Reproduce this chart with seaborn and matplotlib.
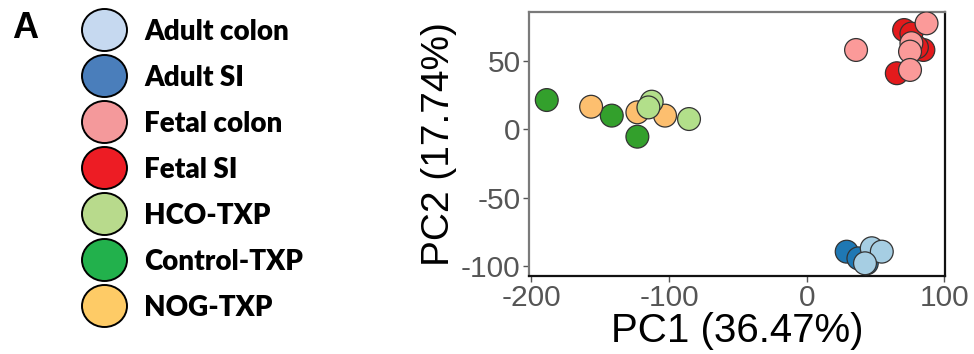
import matplotlib
matplotlib.use("Agg")
import matplotlib.pyplot as plt
from matplotlib.patches import Ellipse
import seaborn as sns
import pandas as pd

# ---- data ----
groups = ["Adult colon", "Adult SI", "Fetal colon", "Fetal SI",
          "HCO-TXP", "Control-TXP", "NOG-TXP"]
draw_order = ["Adult SI", "Adult colon", "Fetal SI", "Fetal colon",
              "Control-TXP", "NOG-TXP", "HCO-TXP"]

pc1_adult_si = [29, 37.5, 43.6]
pc2_adult_si = [-89.5, -94.4, -98]
pc1_adult_colon = [47.2, 54.5, 42.3]
pc2_adult_colon = [-87, -89.5, -98]
pc1_fetal_si = [70.7, 76, 84.7, 65.4, 80]
pc2_fetal_si = [72.6, 70, 58, 41, 60]
pc1_fetal_colon = [35.8, 87, 76, 75, 75]
pc2_fetal_colon = [58, 77.5, 63, 56.8, 43.4]
pc1_control = [-188.8, -141.6, -123]
pc2_control = [21.4, 10, -5.4]
pc1_nog = [-156.6, -123, -102.9]
pc2_nog = [16.5, 12.4, 10]
pc1_hco = [-112.6, -115, -85.5]
pc2_hco = [20.2, 16, 7.5]

x_ticks = [-200, -100, 0, 100]
y_ticks = [50, 0, -50, -100]
x_label = "PC1 (36.47%)"
y_label = "PC2 (17.74%)"

plot_colors = {"Adult colon": "#a6cee3", "Adult SI": "#1f78b4",
               "Fetal colon": "#fb9a99", "Fetal SI": "#e31a1c",
               "HCO-TXP": "#b2df8a", "Control-TXP": "#33a02c",
               "NOG-TXP": "#fdbf6f"}
legend_colors = {"Adult colon": "#c6d9f0", "Adult SI": "#4a7ebb",
                 "Fetal colon": "#f4999b", "Fetal SI": "#ed1c24",
                 "HCO-TXP": "#b8da8c", "Control-TXP": "#22b14c",
                 "NOG-TXP": "#fecb66"}

series = {
    "Adult SI": (pc1_adult_si, pc2_adult_si),
    "Adult colon": (pc1_adult_colon, pc2_adult_colon),
    "Fetal SI": (pc1_fetal_si, pc2_fetal_si),
    "Fetal colon": (pc1_fetal_colon, pc2_fetal_colon),
    "Control-TXP": (pc1_control, pc2_control),
    "NOG-TXP": (pc1_nog, pc2_nog),
    "HCO-TXP": (pc1_hco, pc2_hco),
}
rows = []
for g in draw_order:
    xs, ys = series[g]
    for a, b in zip(xs, ys):
        rows.append({"PC1": a, "PC2": b, "group": g})
df = pd.DataFrame(rows)

# ---- figure ----
sns.set_style("white")
plt.rcParams["font.family"] = ["Liberation Sans", "DejaVu Sans"]
plt.rcParams["text.color"] = "black"

fig = plt.figure(figsize=(9.74, 3.54), dpi=100)
ax = fig.add_axes([529 / 974, 1 - 276 / 354, (945 - 529) / 974, (276 - 11.7) / 354])

sns.scatterplot(data=df, x="PC1", y="PC2", hue="group", palette=plot_colors,
                s=270, edgecolor="#333333", linewidth=0.9, legend=False,
                ax=ax, zorder=3)

ax.set_xlim(-201.7, 100.4)
ax.set_ylim(-107.3, 86)
ax.set_xticks(x_ticks)
ax.set_yticks(y_ticks)
ax.set_xticklabels([str(t) for t in x_ticks])
ax.set_yticklabels([str(t) for t in y_ticks])
ax.tick_params(axis="both", labelsize=21.5, labelcolor="#555555", color="#555555",
               length=4, width=1, direction="out", pad=2,
               bottom=True, left=True)
ax.set_xlabel(x_label, fontsize=29, labelpad=0, color="black")
ax.set_ylabel(y_label, fontsize=28, labelpad=3, color="black")
for side in ["top", "left"]:
    ax.spines[side].set_color("#7a7a7a")
    ax.spines[side].set_linewidth(1.6)
for side in ["right", "bottom"]:
    ax.spines[side].set_color("#111111")
    ax.spines[side].set_linewidth(1.6)

# ---- custom legend panel ----
lax = fig.add_axes([0, 0, 1, 1])
lax.set_xlim(0, 974)
lax.set_ylim(354, 0)
lax.axis("off")
lax.text(12, 38, "A", fontsize=26, fontweight="bold", family=["Liberation Sans"],
         color="black", va="baseline", ha="left")
for i, g in enumerate(groups):
    cy = 30 + 46 * i
    lax.add_patch(Ellipse((104.5, cy), 45, 42, facecolor=legend_colors[g],
                          edgecolor="black", linewidth=1.4))
    lax.text(144, cy + 10.5, g, fontsize=20, fontweight="heavy",
             family=["Lato", "DejaVu Sans"], color="black",
             va="baseline", ha="left")

fig.savefig("out.png", dpi=100)
